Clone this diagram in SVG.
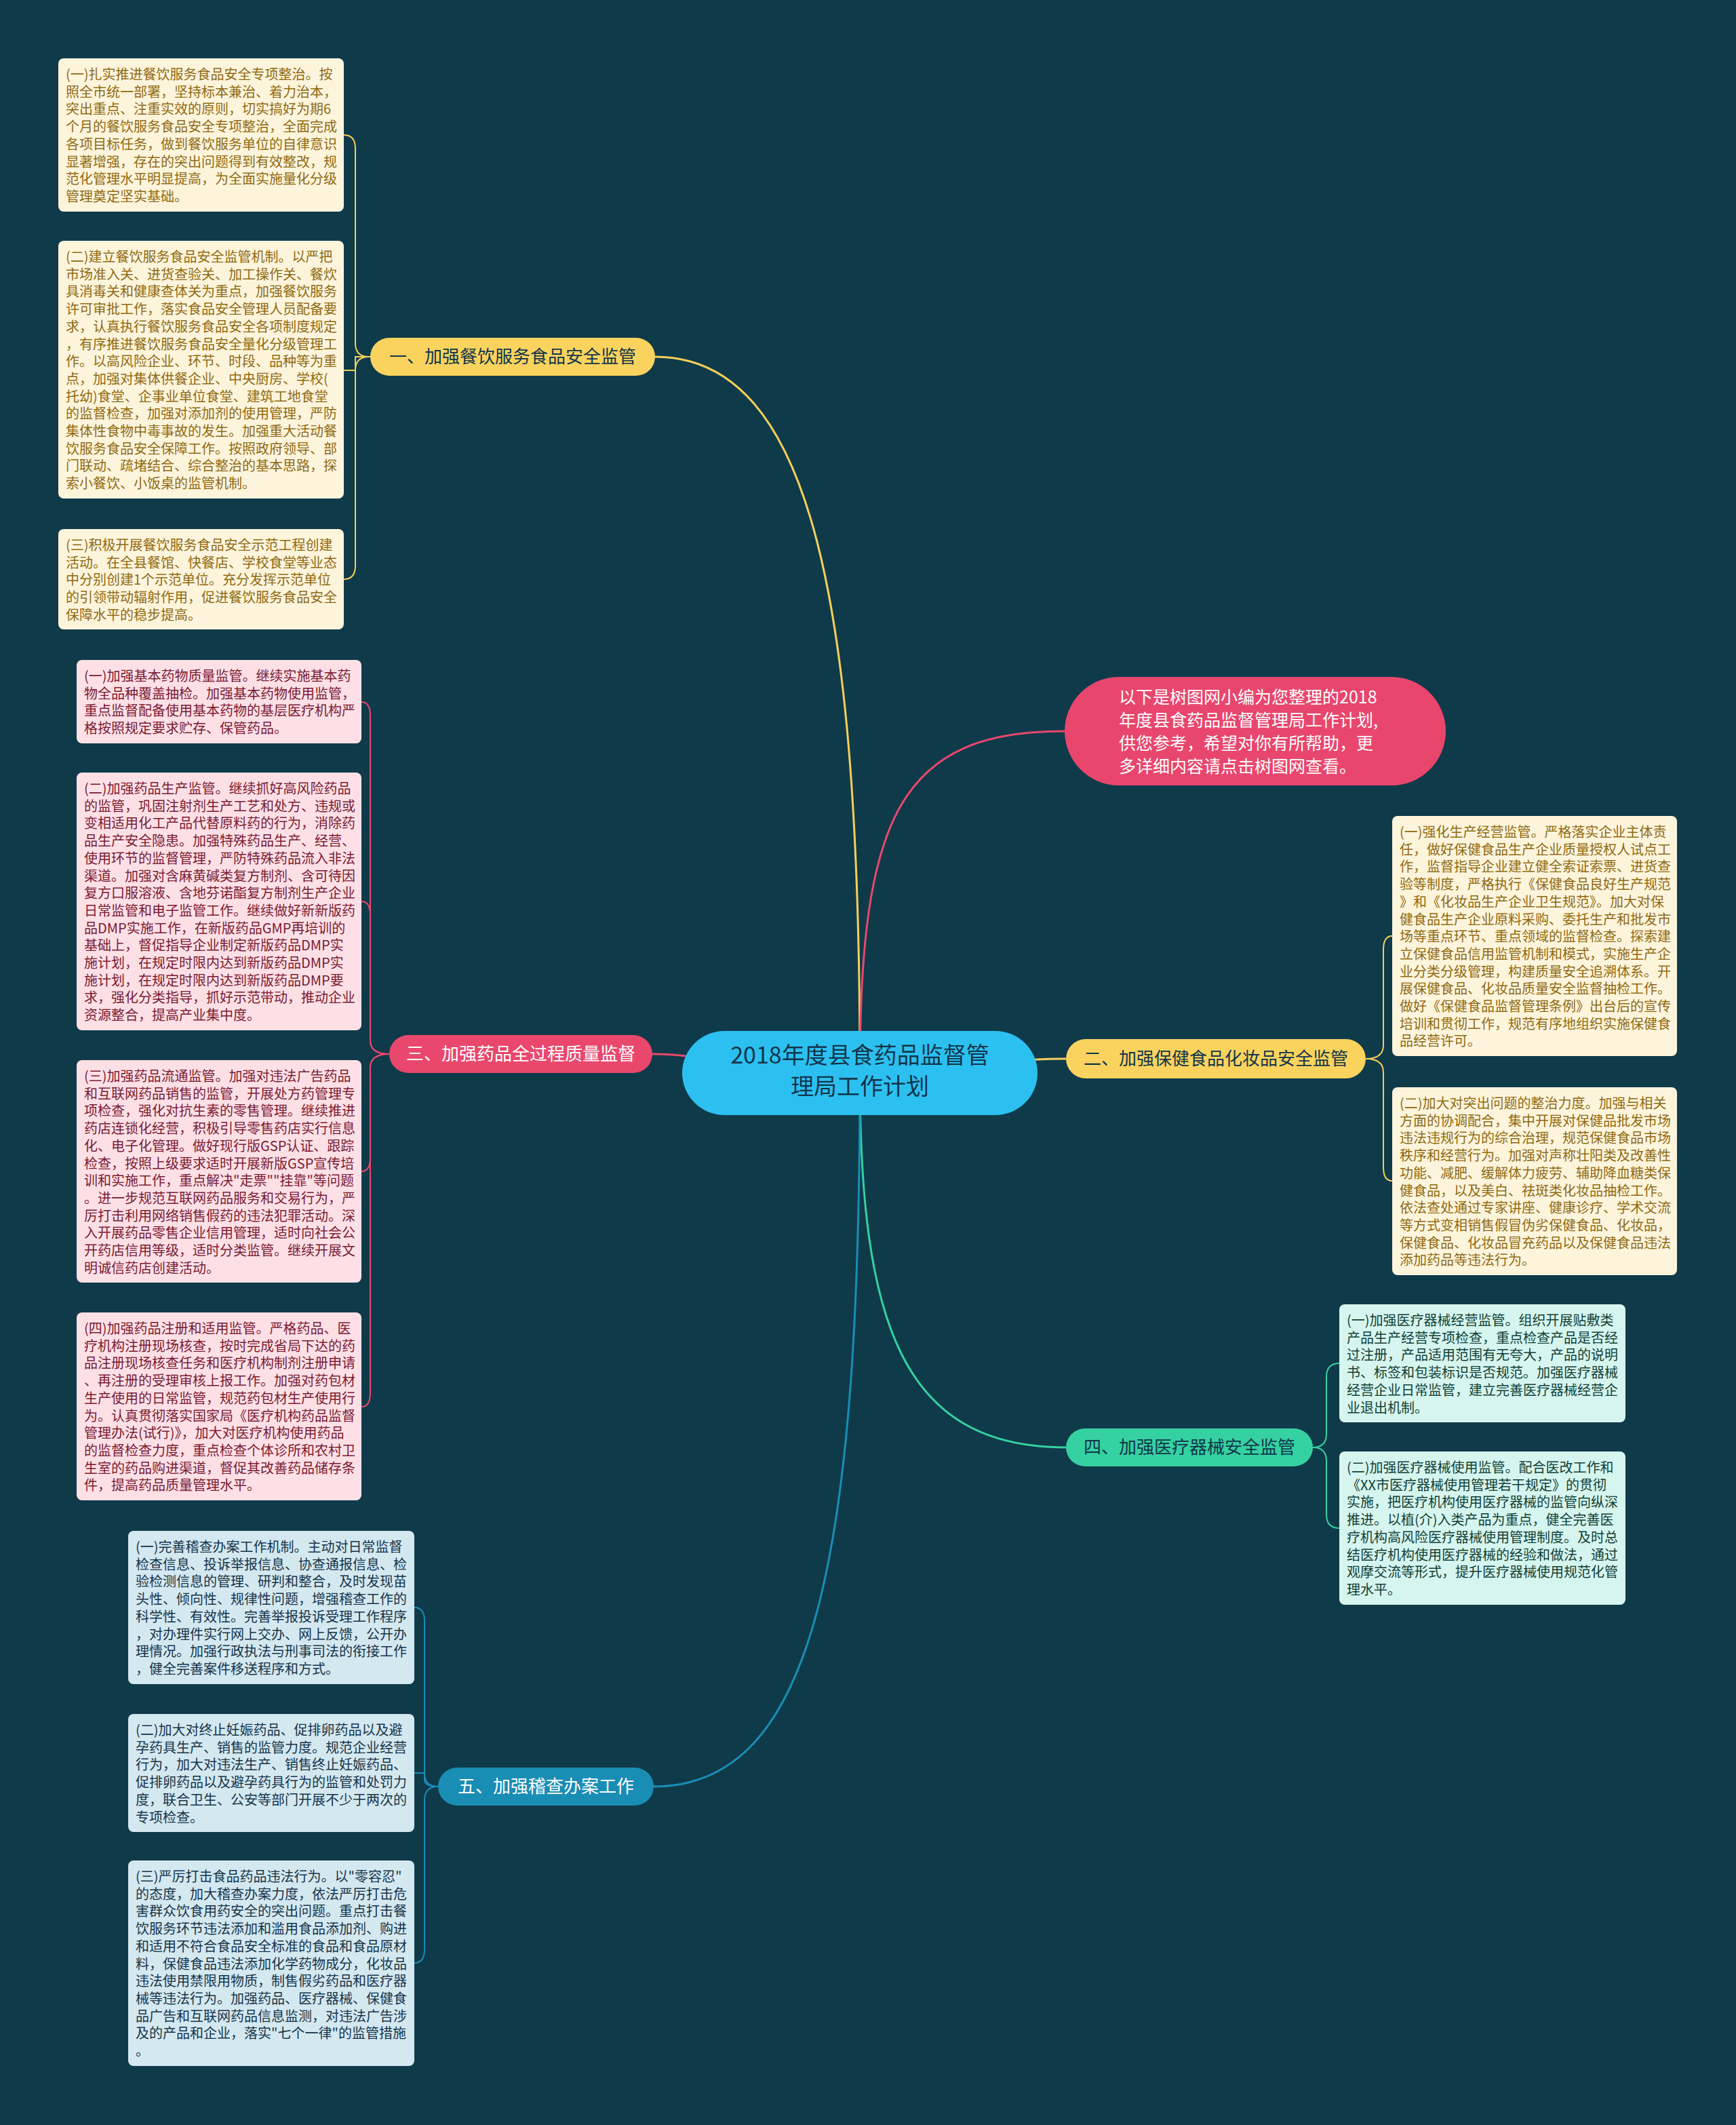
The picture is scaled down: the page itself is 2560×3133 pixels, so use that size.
<svg xmlns="http://www.w3.org/2000/svg" width="2560" height="3133" viewBox="0 0 2560 3133">
<style>
text{font-family:"Noto Sans CJK SC","Noto Sans",sans-serif}
.leaf{font-size:20px}
.ly rect{fill:#fdf4dc}.ly text{fill:#8f6a12}
.lp rect{fill:#fde0e6}.lp text{fill:#7a1a32}
.lb rect{fill:#d4e8f0}.lb text{fill:#14344a}
.lg rect{fill:#d6f5ee}.lg text{fill:#103f36}
.br{font-size:26px;text-anchor:middle}
.c{fill:none;stroke-width:3}
.cl{fill:none;stroke-width:2}
</style>
<rect width="2560" height="3133" fill="#0f3a4a"/>
<g id="connectors">
<path class="c" stroke="#f5cf5a" d="M1268 1582 C1268 900 1200 526 966 526"/>
<path class="c" stroke="#e9476c" d="M1268 1582 C1268 1200 1330 1078 1570 1078"/>
<path class="c" stroke="#f5cf5a" d="M1268 1582 C1400 1582 1450 1561 1572 1561"/>
<path class="c" stroke="#e9476c" d="M1268 1582 C1100 1582 1050 1554 962 1554"/>
<path class="c" stroke="#35d1a1" d="M1268 1582 C1268 1950 1330 2134 1572 2134"/>
<path class="c" stroke="#1a8db5" d="M1268 1582 C1268 2300 1200 2634 964 2634"/>
<g stroke="#f5cf5a" class="cl">
<path class="cl" d="M546 526 L544 526 Q524 526 524 506 L524 219 Q524 199 507 199"/>
<path class="cl" d="M546 526 L524 526 L524 546 L507 546"/>
<path class="cl" d="M546 526 L544 526 Q524 526 524 546 L524 834 Q524 854 507 854"/>
</g>
<g stroke="#e9476c">
<path class="cl" d="M574 1554 Q546 1554 546 1534 L546 1055 Q546 1035 533 1035"/>
<path class="cl" d="M574 1554 Q546 1554 546 1534 L546 1349 Q546 1329 533 1329"/>
<path class="cl" d="M574 1554 Q546 1554 546 1574 L546 1707 Q546 1727 533 1727"/>
<path class="cl" d="M574 1554 Q546 1554 546 1574 L546 2054 Q546 2074 533 2074"/>
</g>
<g stroke="#1a8db5">
<path class="cl" d="M646 2634 Q626 2634 626 2614 L626 2390 Q626 2370 611 2370"/>
<path class="cl" d="M646 2634 Q626 2634 626 2624 L626 2614 L611 2614"/>
<path class="cl" d="M646 2634 Q626 2634 626 2654 L626 2874 Q626 2894 611 2894"/>
</g>
<g stroke="#f5cf5a">
<path class="cl" d="M2014 1561 Q2040 1561 2040 1541 L2040 1400 Q2040 1380 2053 1380"/>
<path class="cl" d="M2014 1561 Q2040 1561 2040 1581 L2040 1721 Q2040 1741 2053 1741"/>
</g>
<g stroke="#35d1a1">
<path class="cl" d="M1936 2134 Q1956 2134 1956 2114 L1956 2030 Q1956 2010 1975 2010"/>
<path class="cl" d="M1936 2134 Q1956 2134 1956 2154 L1956 2233 Q1956 2253 1975 2253"/>
</g>
</g>
<g id="center">
<rect x="1006" y="1520" width="524" height="124" rx="62" fill="#2cc0f0"/>
<text x="1268" y="1568" font-size="34" text-anchor="middle" fill="#10354a">2018年度县食药品监督管</text>
<text x="1268" y="1614" font-size="34" text-anchor="middle" fill="#10354a">理局工作计划</text>
</g>
<g id="intro">
<rect x="1570" y="998" width="562" height="160" rx="80" fill="#e9466d"/>
<text font-size="25" fill="#ffffff"><tspan x="1650" y="1037">以下是树图网小编为您整理的2018</tspan><tspan x="1650" y="1071">年度县食药品监督管理局工作计划,</tspan><tspan x="1650" y="1105">供您参考，希望对你有所帮助，更</tspan><tspan x="1650" y="1139">多详细内容请点击树图网查看。</tspan></text>
</g>
<g id="b1">
<rect x="546" y="498" width="420" height="56" rx="28" fill="#fad35e"/>
<text class="br" x="756" y="535" fill="#10354a">一、加强餐饮服务食品安全监管</text>
</g>
<g id="b2">
<rect x="1572" y="1532" width="442" height="58" rx="29" fill="#fad35e"/>
<text class="br" x="1793" y="1570" fill="#10354a">二、加强保健食品化妆品安全监管</text>
</g>
<g id="b3">
<rect x="574" y="1526" width="388" height="56" rx="28" fill="#e9476c"/>
<text class="br" x="768" y="1563" fill="#ffffff">三、加强药品全过程质量监督</text>
</g>
<g id="b4">
<rect x="1572" y="2106" width="364" height="56" rx="28" fill="#35d1a1"/>
<text class="br" x="1754" y="2143" fill="#10354a">四、加强医疗器械安全监管</text>
</g>
<g id="b5">
<rect x="646" y="2606" width="318" height="56" rx="28" fill="#1a8db5"/>
<text class="br" x="805" y="2643" fill="#ffffff">五、加强稽查办案工作</text>
</g>
<g id="l1-1" class="ly leaf">
<rect x="86" y="86" width="421" height="226" rx="8"/>
<text><tspan x="97" y="117">(一)扎实推进餐饮服务食品安全专项整治。按</tspan><tspan x="97" dy="25.7">照全市统一部署，坚持标本兼治、着力治本，</tspan><tspan x="97" dy="25.7">突出重点、注重实效的原则，切实搞好为期6</tspan><tspan x="97" dy="25.7">个月的餐饮服务食品安全专项整治，全面完成</tspan><tspan x="97" dy="25.7">各项目标任务，做到餐饮服务单位的自律意识</tspan><tspan x="97" dy="25.7">显著增强，存在的突出问题得到有效整改，规</tspan><tspan x="97" dy="25.7">范化管理水平明显提高，为全面实施量化分级</tspan><tspan x="97" dy="25.7">管理奠定坚实基础。</tspan></text>
</g>
<g id="l1-2" class="ly leaf">
<rect x="86" y="355" width="421" height="380" rx="8"/>
<text><tspan x="97" y="386">(二)建立餐饮服务食品安全监管机制。以严把</tspan><tspan x="97" dy="25.7">市场准入关、进货查验关、加工操作关、餐炊</tspan><tspan x="97" dy="25.7">具消毒关和健康查体关为重点，加强餐饮服务</tspan><tspan x="97" dy="25.7">许可审批工作，落实食品安全管理人员配备要</tspan><tspan x="97" dy="25.7">求，认真执行餐饮服务食品安全各项制度规定</tspan><tspan x="97" dy="25.7">，有序推进餐饮服务食品安全量化分级管理工</tspan><tspan x="97" dy="25.7">作。以高风险企业、环节、时段、品种等为重</tspan><tspan x="97" dy="25.7">点，加强对集体供餐企业、中央厨房、学校(</tspan><tspan x="97" dy="25.7">托幼)食堂、企事业单位食堂、建筑工地食堂</tspan><tspan x="97" dy="25.7">的监督检查，加强对添加剂的使用管理，严防</tspan><tspan x="97" dy="25.7">集体性食物中毒事故的发生。加强重大活动餐</tspan><tspan x="97" dy="25.7">饮服务食品安全保障工作。按照政府领导、部</tspan><tspan x="97" dy="25.7">门联动、疏堵结合、综合整治的基本思路，探</tspan><tspan x="97" dy="25.7">索小餐饮、小饭桌的监管机制。</tspan></text>
</g>
<g id="l1-3" class="ly leaf">
<rect x="86" y="780" width="421" height="148" rx="8"/>
<text><tspan x="97" y="811">(三)积极开展餐饮服务食品安全示范工程创建</tspan><tspan x="97" dy="25.7">活动。在全县餐馆、快餐店、学校食堂等业态</tspan><tspan x="97" dy="25.7">中分别创建1个示范单位。充分发挥示范单位</tspan><tspan x="97" dy="25.7">的引领带动辐射作用，促进餐饮服务食品安全</tspan><tspan x="97" dy="25.7">保障水平的稳步提高。</tspan></text>
</g>
<g id="l3-1" class="lp leaf">
<rect x="113" y="973" width="420" height="123" rx="8"/>
<text><tspan x="124" y="1004">(一)加强基本药物质量监管。继续实施基本药</tspan><tspan x="124" dy="25.7">物全品种覆盖抽检。加强基本药物使用监管，</tspan><tspan x="124" dy="25.7">重点监督配备使用基本药物的基层医疗机构严</tspan><tspan x="124" dy="25.7">格按照规定要求贮存、保管药品。</tspan></text>
</g>
<g id="l3-2" class="lp leaf">
<rect x="113" y="1139" width="420" height="380" rx="8"/>
<text><tspan x="124" y="1170">(二)加强药品生产监管。继续抓好高风险药品</tspan><tspan x="124" dy="25.7">的监管，巩固注射剂生产工艺和处方、违规或</tspan><tspan x="124" dy="25.7">变相适用化工产品代替原料药的行为，消除药</tspan><tspan x="124" dy="25.7">品生产安全隐患。加强特殊药品生产、经营、</tspan><tspan x="124" dy="25.7">使用环节的监督管理，严防特殊药品流入非法</tspan><tspan x="124" dy="25.7">渠道。加强对含麻黄碱类复方制剂、含可待因</tspan><tspan x="124" dy="25.7">复方口服溶液、含地芬诺酯复方制剂生产企业</tspan><tspan x="124" dy="25.7">日常监管和电子监管工作。继续做好新新版药</tspan><tspan x="124" dy="25.7">品DMP实施工作，在新版药品GMP再培训的</tspan><tspan x="124" dy="25.7">基础上，督促指导企业制定新版药品DMP实</tspan><tspan x="124" dy="25.7">施计划，在规定时限内达到新版药品DMP实</tspan><tspan x="124" dy="25.7">施计划，在规定时限内达到新版药品DMP要</tspan><tspan x="124" dy="25.7">求，强化分类指导，抓好示范带动，推动企业</tspan><tspan x="124" dy="25.7">资源整合，提高产业集中度。</tspan></text>
</g>
<g id="l3-3" class="lp leaf">
<rect x="113" y="1563" width="420" height="328" rx="8"/>
<text><tspan x="124" y="1594">(三)加强药品流通监管。加强对违法广告药品</tspan><tspan x="124" dy="25.7">和互联网药品销售的监管，开展处方药管理专</tspan><tspan x="124" dy="25.7">项检查，强化对抗生素的零售管理。继续推进</tspan><tspan x="124" dy="25.7">药店连锁化经营，积极引导零售药店实行信息</tspan><tspan x="124" dy="25.7">化、电子化管理。做好现行版GSP认证、跟踪</tspan><tspan x="124" dy="25.7">检查，按照上级要求适时开展新版GSP宣传培</tspan><tspan x="124" dy="25.7">训和实施工作，重点解决"走票""挂靠"等问题</tspan><tspan x="124" dy="25.7">。进一步规范互联网药品服务和交易行为，严</tspan><tspan x="124" dy="25.7">厉打击利用网络销售假药的违法犯罪活动。深</tspan><tspan x="124" dy="25.7">入开展药品零售企业信用管理，适时向社会公</tspan><tspan x="124" dy="25.7">开药店信用等级，适时分类监管。继续开展文</tspan><tspan x="124" dy="25.7">明诚信药店创建活动。</tspan></text>
</g>
<g id="l3-4" class="lp leaf">
<rect x="113" y="1935" width="420" height="277" rx="8"/>
<text><tspan x="124" y="1966">(四)加强药品注册和适用监管。严格药品、医</tspan><tspan x="124" dy="25.7">疗机构注册现场核查，按时完成省局下达的药</tspan><tspan x="124" dy="25.7">品注册现场核查任务和医疗机构制剂注册申请</tspan><tspan x="124" dy="25.7">、再注册的受理审核上报工作。加强对药包材</tspan><tspan x="124" dy="25.7">生产使用的日常监管，规范药包材生产使用行</tspan><tspan x="124" dy="25.7">为。认真贯彻落实国家局《医疗机构药品监督</tspan><tspan x="124" dy="25.7">管理办法(试行)》，加大对医疗机构使用药品</tspan><tspan x="124" dy="25.7">的监督检查力度，重点检查个体诊所和农村卫</tspan><tspan x="124" dy="25.7">生室的药品购进渠道，督促其改善药品储存条</tspan><tspan x="124" dy="25.7">件，提高药品质量管理水平。</tspan></text>
</g>
<g id="l5-1" class="lb leaf">
<rect x="189" y="2257" width="422" height="226" rx="8"/>
<text><tspan x="200" y="2288">(一)完善稽查办案工作机制。主动对日常监督</tspan><tspan x="200" dy="25.7">检查信息、投诉举报信息、协查通报信息、检</tspan><tspan x="200" dy="25.7">验检测信息的管理、研判和整合，及时发现苗</tspan><tspan x="200" dy="25.7">头性、倾向性、规律性问题，增强稽查工作的</tspan><tspan x="200" dy="25.7">科学性、有效性。完善举报投诉受理工作程序</tspan><tspan x="200" dy="25.7">，对办理件实行网上交办、网上反馈，公开办</tspan><tspan x="200" dy="25.7">理情况。加强行政执法与刑事司法的衔接工作</tspan><tspan x="200" dy="25.7">，健全完善案件移送程序和方式。</tspan></text>
</g>
<g id="l5-2" class="lb leaf">
<rect x="189" y="2527" width="422" height="174" rx="8"/>
<text><tspan x="200" y="2558">(二)加大对终止妊娠药品、促排卵药品以及避</tspan><tspan x="200" dy="25.7">孕药具生产、销售的监管力度。规范企业经营</tspan><tspan x="200" dy="25.7">行为，加大对违法生产、销售终止妊娠药品、</tspan><tspan x="200" dy="25.7">促排卵药品以及避孕药具行为的监管和处罚力</tspan><tspan x="200" dy="25.7">度，联合卫生、公安等部门开展不少于两次的</tspan><tspan x="200" dy="25.7">专项检查。</tspan></text>
</g>
<g id="l5-3" class="lb leaf">
<rect x="189" y="2743" width="422" height="303" rx="8"/>
<text><tspan x="200" y="2774">(三)严厉打击食品药品违法行为。以"零容忍"</tspan><tspan x="200" dy="25.7">的态度，加大稽查办案力度，依法严厉打击危</tspan><tspan x="200" dy="25.7">害群众饮食用药安全的突出问题。重点打击餐</tspan><tspan x="200" dy="25.7">饮服务环节违法添加和滥用食品添加剂、购进</tspan><tspan x="200" dy="25.7">和适用不符合食品安全标准的食品和食品原材</tspan><tspan x="200" dy="25.7">料，保健食品违法添加化学药物成分，化妆品</tspan><tspan x="200" dy="25.7">违法使用禁限用物质，制售假劣药品和医疗器</tspan><tspan x="200" dy="25.7">械等违法行为。加强药品、医疗器械、保健食</tspan><tspan x="200" dy="25.7">品广告和互联网药品信息监测，对违法广告涉</tspan><tspan x="200" dy="25.7">及的产品和企业，落实"七个一律"的监管措施</tspan><tspan x="200" dy="25.7">。</tspan></text>
</g>
<g id="l2-1" class="ly leaf">
<rect x="2053" y="1203" width="420" height="354" rx="8"/>
<text><tspan x="2064" y="1234">(一)强化生产经营监管。严格落实企业主体责</tspan><tspan x="2064" dy="25.7">任，做好保健食品生产企业质量授权人试点工</tspan><tspan x="2064" dy="25.7">作，监督指导企业建立健全索证索票、进货查</tspan><tspan x="2064" dy="25.7">验等制度，严格执行《保健食品良好生产规范</tspan><tspan x="2064" dy="25.7">》和《化妆品生产企业卫生规范》。加大对保</tspan><tspan x="2064" dy="25.7">健食品生产企业原料采购、委托生产和批发市</tspan><tspan x="2064" dy="25.7">场等重点环节、重点领域的监督检查。探索建</tspan><tspan x="2064" dy="25.7">立保健食品信用监管机制和模式，实施生产企</tspan><tspan x="2064" dy="25.7">业分类分级管理，构建质量安全追溯体系。开</tspan><tspan x="2064" dy="25.7">展保健食品、化妆品质量安全监督抽检工作。</tspan><tspan x="2064" dy="25.7">做好《保健食品监督管理条例》出台后的宣传</tspan><tspan x="2064" dy="25.7">培训和贯彻工作，规范有序地组织实施保健食</tspan><tspan x="2064" dy="25.7">品经营许可。</tspan></text>
</g>
<g id="l2-2" class="ly leaf">
<rect x="2053" y="1603" width="420" height="277" rx="8"/>
<text><tspan x="2064" y="1634">(二)加大对突出问题的整治力度。加强与相关</tspan><tspan x="2064" dy="25.7">方面的协调配合，集中开展对保健品批发市场</tspan><tspan x="2064" dy="25.7">违法违规行为的综合治理，规范保健食品市场</tspan><tspan x="2064" dy="25.7">秩序和经营行为。加强对声称壮阳类及改善性</tspan><tspan x="2064" dy="25.7">功能、减肥、缓解体力疲劳、辅助降血糖类保</tspan><tspan x="2064" dy="25.7">健食品，以及美白、祛斑类化妆品抽检工作。</tspan><tspan x="2064" dy="25.7">依法查处通过专家讲座、健康诊疗、学术交流</tspan><tspan x="2064" dy="25.7">等方式变相销售假冒伪劣保健食品、化妆品，</tspan><tspan x="2064" dy="25.7">保健食品、化妆品冒充药品以及保健食品违法</tspan><tspan x="2064" dy="25.7">添加药品等违法行为。</tspan></text>
</g>
<g id="l4-1" class="lg leaf">
<rect x="1975" y="1923" width="422" height="174" rx="8"/>
<text><tspan x="1986" y="1954">(一)加强医疗器械经营监管。组织开展贴敷类</tspan><tspan x="1986" dy="25.7">产品生产经营专项检查，重点检查产品是否经</tspan><tspan x="1986" dy="25.7">过注册，产品适用范围有无夸大，产品的说明</tspan><tspan x="1986" dy="25.7">书、标签和包装标识是否规范。加强医疗器械</tspan><tspan x="1986" dy="25.7">经营企业日常监管，建立完善医疗器械经营企</tspan><tspan x="1986" dy="25.7">业退出机制。</tspan></text>
</g>
<g id="l4-2" class="lg leaf">
<rect x="1975" y="2140" width="422" height="226" rx="8"/>
<text><tspan x="1986" y="2171">(二)加强医疗器械使用监管。配合医改工作和</tspan><tspan x="1986" dy="25.7">《XX市医疗器械使用管理若干规定》的贯彻</tspan><tspan x="1986" dy="25.7">实施，把医疗机构使用医疗器械的监管向纵深</tspan><tspan x="1986" dy="25.7">推进。以植(介)入类产品为重点，健全完善医</tspan><tspan x="1986" dy="25.7">疗机构高风险医疗器械使用管理制度。及时总</tspan><tspan x="1986" dy="25.7">结医疗机构使用医疗器械的经验和做法，通过</tspan><tspan x="1986" dy="25.7">观摩交流等形式，提升医疗器械使用规范化管</tspan><tspan x="1986" dy="25.7">理水平。</tspan></text>
</g>
</svg>
